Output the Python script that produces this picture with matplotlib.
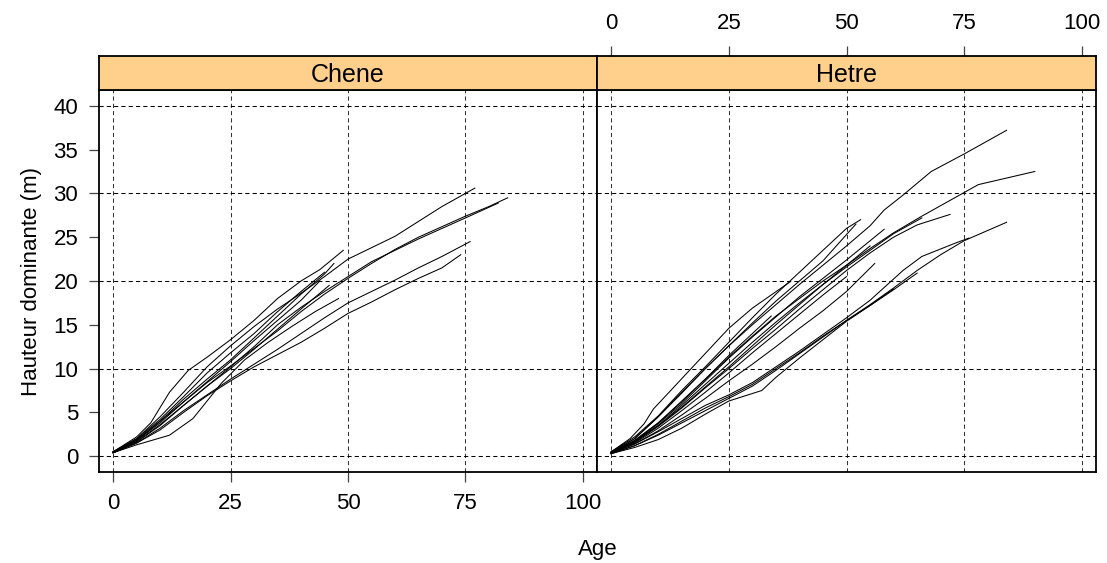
import matplotlib
matplotlib.use("Agg")
import matplotlib.pyplot as plt

plt.rcParams['font.family'] = ['Liberation Sans', 'DejaVu Sans']

# Chene stands: (ages, heights)
chene = [
    ([0, 5, 8, 12, 16, 20, 25, 30, 35, 40, 44, 49], [0.5, 2.2, 3.8, 7.3, 9.8, 11.3, 13.3, 15.5, 18.0, 20.0, 21.3, 23.5]),
    ([0, 5, 10, 15, 20, 25, 30, 35, 40, 45, 50, 55, 60, 65, 70, 77], [0.5, 2.0, 4.5, 7.3, 10.2, 12.6, 14.8, 16.8, 18.6, 20.5, 22.5, 23.8, 25.1, 26.8, 28.5, 30.6]),
    ([0, 5, 10, 15, 20, 25, 30, 35, 40, 45, 50, 55, 60, 65, 70, 75, 80, 84], [0.5, 1.8, 3.8, 6.2, 8.4, 10.3, 12.3, 14.3, 16.5, 18.5, 20.3, 22.0, 23.6, 25.0, 26.2, 27.4, 28.5, 29.5]),
    ([0, 5, 10, 15, 20, 25, 30, 35, 40, 45, 50, 55, 60, 65, 70, 75, 82], [0.4, 1.6, 3.5, 5.8, 8.0, 10.2, 12.5, 15.0, 17.0, 18.8, 20.5, 22.2, 23.5, 24.8, 26.0, 27.2, 28.9]),
    ([0, 5, 10, 15, 20, 25, 30, 35, 40, 45, 50, 55, 60, 65, 70, 76], [0.4, 1.5, 3.2, 5.2, 7.0, 8.8, 10.5, 12.2, 14.0, 15.8, 17.5, 18.8, 20.1, 21.5, 22.8, 24.5]),
    ([0, 5, 10, 15, 20, 25, 30, 35, 40, 45, 50, 55, 60, 65, 70, 74], [0.4, 1.5, 3.0, 5.0, 6.9, 8.6, 10.2, 11.6, 13.0, 14.6, 16.3, 17.6, 19.0, 20.3, 21.5, 23.0]),
    ([0, 5, 10, 15, 20, 25, 30, 35, 40, 45, 47], [0.4, 1.8, 4.0, 6.5, 8.8, 11.0, 13.5, 16.0, 18.5, 20.8, 22.0]),
    ([0, 5, 12, 17, 23, 28, 33, 38, 43, 48], [0.4, 1.3, 2.4, 4.3, 8.3, 11.0, 13.0, 14.8, 16.5, 18.0]),
    ([0, 5, 10, 15, 20, 25, 30, 35, 40, 45], [0.5, 2.0, 4.2, 6.8, 9.5, 11.8, 14.0, 16.5, 18.8, 21.0]),
    ([0, 5, 10, 15, 20, 25, 30, 35, 40, 44], [0.5, 1.9, 4.0, 6.2, 8.5, 10.8, 13.2, 15.5, 17.8, 20.0]),
    ([0, 5, 10, 15, 20, 25, 30, 35, 40, 46], [0.4, 1.7, 3.6, 5.8, 8.0, 10.0, 12.2, 14.5, 16.8, 19.5]),
]

# Hetre stands
hetre = [
    ([0, 5, 10, 15, 20, 25, 30, 35, 40, 45, 50, 55, 58, 62, 68, 75, 84], [0.4, 2.0, 4.5, 7.3, 10.0, 12.6, 15.0, 17.3, 19.6, 21.8, 24.0, 26.3, 28.1, 29.8, 32.5, 34.5, 37.2]),
    ([0, 5, 10, 15, 20, 25, 30, 35, 40, 45, 50, 55, 60, 66, 72, 78, 90], [0.4, 1.8, 3.8, 6.3, 8.8, 11.3, 13.7, 16.0, 18.0, 20.0, 21.8, 23.7, 25.5, 27.4, 29.2, 31.0, 32.5]),
    ([0, 5, 10, 15, 20, 25, 30, 35, 40, 45, 50, 55, 60, 65, 70, 75, 84], [0.3, 1.2, 2.5, 4.0, 5.5, 6.8, 8.2, 10.0, 11.8, 13.7, 15.5, 17.3, 19.2, 21.2, 23.0, 24.6, 26.7]),
    ([0, 5, 10, 15, 20, 25, 30, 35, 40, 45, 50, 55, 60, 65], [0.3, 1.2, 2.4, 3.8, 5.2, 6.6, 8.0, 9.8, 11.7, 13.6, 15.5, 17.2, 19.0, 20.9]),
    ([0, 5, 10, 15, 20, 25, 30, 35, 40, 45, 50, 55, 62, 66, 73, 76], [0.4, 1.4, 2.8, 4.3, 5.8, 7.0, 8.4, 10.2, 12.0, 13.9, 15.8, 17.8, 21.2, 22.8, 24.3, 24.9]),
    ([0, 5, 10, 15, 20, 25, 30, 35, 40, 45, 50, 55, 60, 65, 72], [0.4, 1.6, 3.4, 5.5, 7.8, 10.0, 12.3, 14.5, 16.8, 19.0, 21.2, 23.2, 25.0, 26.4, 27.6]),
    ([0, 5, 10, 15, 20, 25, 30, 35, 40, 45, 50, 55, 60, 66], [0.4, 1.7, 3.5, 5.8, 8.2, 10.6, 13.0, 15.3, 17.5, 19.6, 21.6, 23.5, 25.4, 27.2]),
    ([0, 5, 10, 15, 20, 25, 30, 35, 40, 45, 50, 58], [0.4, 1.7, 3.7, 6.0, 8.6, 11.2, 13.6, 15.9, 18.2, 20.3, 22.4, 25.9]),
    ([0, 5, 10, 15, 20, 25, 30, 35, 40, 45, 50, 56], [0.3, 1.4, 2.9, 4.7, 6.6, 8.6, 10.5, 12.5, 14.6, 16.6, 18.8, 22.0]),
    ([0, 5, 10, 15, 20, 25, 30, 35, 40, 45, 50, 53], [0.5, 2.2, 4.6, 7.5, 10.2, 13.0, 15.8, 18.5, 21.0, 23.5, 26.0, 27.0]),
    ([0, 5, 10, 15, 20, 25, 30, 35, 40, 45, 52], [0.5, 2.0, 4.5, 7.2, 10.0, 12.6, 15.2, 17.7, 20.0, 22.3, 26.5]),
    ([0, 4, 7, 9, 17, 25, 30, 38], [0.5, 2.0, 3.7, 5.4, 10.0, 14.6, 16.9, 19.9]),
    ([0, 5, 10, 15, 20, 25, 30, 34], [0.4, 1.8, 3.8, 6.2, 8.8, 11.5, 14.0, 16.0]),
    ([0, 5, 10, 15, 20, 25, 32, 35, 40, 45, 50, 55, 60], [0.3, 1.0, 1.9, 3.2, 4.8, 6.3, 7.5, 9.0, 11.2, 13.3, 15.4, 17.2, 19.1]),
    ([0, 5, 10, 15, 20, 25, 30, 35, 40, 45, 50], [0.4, 1.5, 3.2, 5.2, 7.3, 9.5, 11.8, 14.0, 16.2, 18.4, 20.5]),
    ([0, 5, 10, 15, 20, 25, 30, 35, 40, 45, 50, 55], [0.4, 1.6, 3.5, 5.6, 7.9, 10.2, 12.6, 15.0, 17.3, 19.6, 21.8, 24.0]),
]

panels = ["Chene", "Hetre"]
xticks = [0, 25, 50, 75, 100]
yticks = [0, 5, 10, 15, 20, 25, 30, 35, 40]
ygrid = [0, 10, 20, 30, 40]

W, H = 1107, 563
fig = plt.figure(figsize=(W / 100, H / 100), dpi=100)

def px(x0, y0, x1, y1):
    return [x0 / W, 1 - y1 / H, (x1 - x0) / W, (y1 - y0) / H]

boxes = [(99, 597), (597, 1096)]
strip_col = '#FFD08C'
tick_col = '#444444'
fs = 16

for i, (name, data) in enumerate(zip(panels, [chene, hetre])):
    x0, x1 = boxes[i]
    ax = fig.add_axes(px(x0, 90, x1, 472))
    ax.set_xlim(-3, 103)
    ax.set_ylim(-1.8, 41.8)
    for g in xticks:
        ax.axvline(g, color='#333333', lw=0.75, dashes=(4, 3), zorder=1)
    for g in ygrid:
        ax.axhline(g, color='black', lw=0.75, dashes=(4, 3), zorder=1)
    for ages, h in data:
        ax.plot(ages, h, color='black', lw=0.75, zorder=2)
    for s in ax.spines.values():
        s.set_linewidth(1.3)
    ax.tick_params(direction='out', length=7, width=0.9, color=tick_col,
                   labelsize=fs, pad=8)
    ax.set_xticks(xticks)
    ax.set_yticks(yticks)
    if i == 0:
        ax.set_ylabel("Hauteur dominante (m)", fontsize=fs, labelpad=8)
    else:
        ax.tick_params(left=False, labelleft=False, bottom=False, labelbottom=False)

    st = fig.add_axes(px(x0, 56, x1, 90))
    st.set_facecolor(strip_col)
    st.set_xlim(-3, 103)
    st.set_yticks([])
    for s in st.spines.values():
        s.set_linewidth(1.3)
    st.text(0.5, 0.45, name, transform=st.transAxes, ha='center', va='center', fontsize=18)
    if i == 1:
        st.set_xticks(xticks)
        st.tick_params(top=True, labeltop=True, bottom=False, labelbottom=False,
                       direction='out', length=7, width=0.9, color=tick_col,
                       labelsize=fs, pad=9)
    else:
        st.set_xticks([])

fig.text(598 / W, 1 - 549 / H, "Age", ha='center', va='center', fontsize=fs)

fig.savefig("out.png", dpi=100)
